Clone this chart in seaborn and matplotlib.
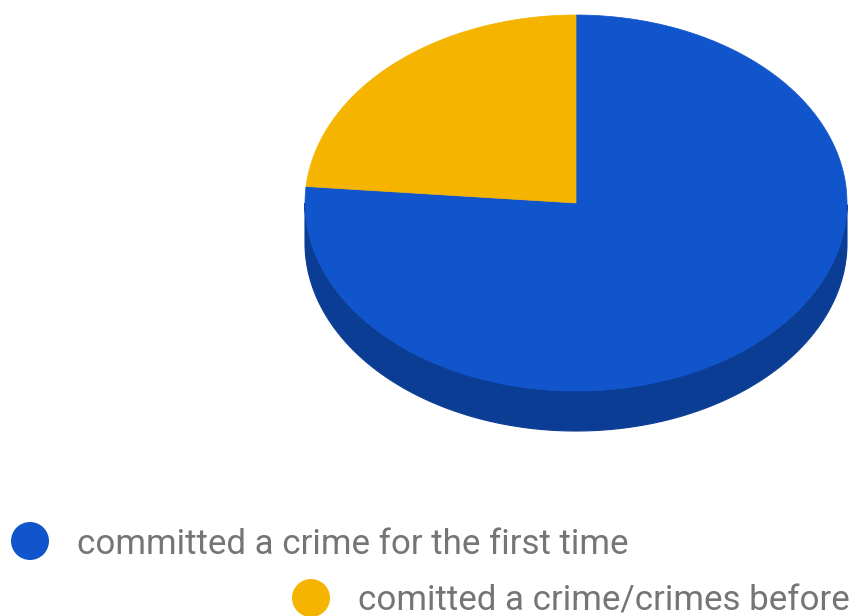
import numpy as np
import matplotlib
matplotlib.use("Agg")
import matplotlib.pyplot as plt
import seaborn as sns
from matplotlib.patches import Polygon, Circle

sns.set_theme(style="white")
plt.rcParams['font.family'] = ['Roboto', 'DejaVu Sans']

categories = ["committed a crime for the first time", "comitted a crime/crimes before"]
values = [76.4, 23.6]
colors = ["#1155cc", "#f4b400"]
side_colors = ["#0c3d94", "#ab7e00"]

W, H = 856, 616
fig = plt.figure(figsize=(W / 100, H / 100), dpi=100)
ax = fig.add_axes([0, 0, 1, 1])
ax.set_xlim(0, W)
ax.set_ylim(H, 0)
ax.axis("off")

cx, cy, rx, ry, depth = 576, 203, 271, 188, 40


def pt(t, dy=0.0):
    return cx + rx * np.cos(t), cy - ry * np.sin(t) + dy


total = sum(values)
start = 90.0
angles = []
for v in values:
    sweep = 360.0 * v / total
    angles.append((start - sweep, start))
    start -= sweep

# side walls (front half: angles between 180 and 360 deg)
for (a0, a1), sc in zip(angles, side_colors):
    t = np.linspace(np.radians(a0), np.radians(a1), 600)
    tm = np.mod(t, 2 * np.pi)
    mask = (tm >= np.pi) & (tm <= 2 * np.pi)
    if not mask.any():
        continue
    idx = np.where(mask)[0]
    runs = np.split(idx, np.where(np.diff(idx) != 1)[0] + 1)
    for r in runs:
        tt = t[r]
        xs, ys = pt(tt)
        xb, yb = pt(tt[::-1], depth)
        poly = np.column_stack([np.r_[xs, xb], np.r_[ys, yb]])
        ax.add_patch(Polygon(poly, closed=True, facecolor=sc, edgecolor=sc, lw=0.8))

# top faces
for (a0, a1), c in zip(angles, colors):
    t = np.linspace(np.radians(a0), np.radians(a1), 400)
    xs, ys = pt(t)
    poly = np.column_stack([np.r_[cx, xs], np.r_[cy, ys]])
    ax.add_patch(Polygon(poly, closed=True, facecolor=c, edgecolor=c, lw=0.5))

# legend
leg_pos = [(30, 541), (311, 598)]
for (lx, ly), c, lab in zip(leg_pos, colors, categories):
    ax.add_patch(Circle((lx, ly), 19, facecolor=c, edgecolor="none"))
    ax.text(lx + 47, ly + 3, lab, fontsize=25.1, color="#757575", va="center", ha="left")

fig.savefig("out.png", dpi=100)
